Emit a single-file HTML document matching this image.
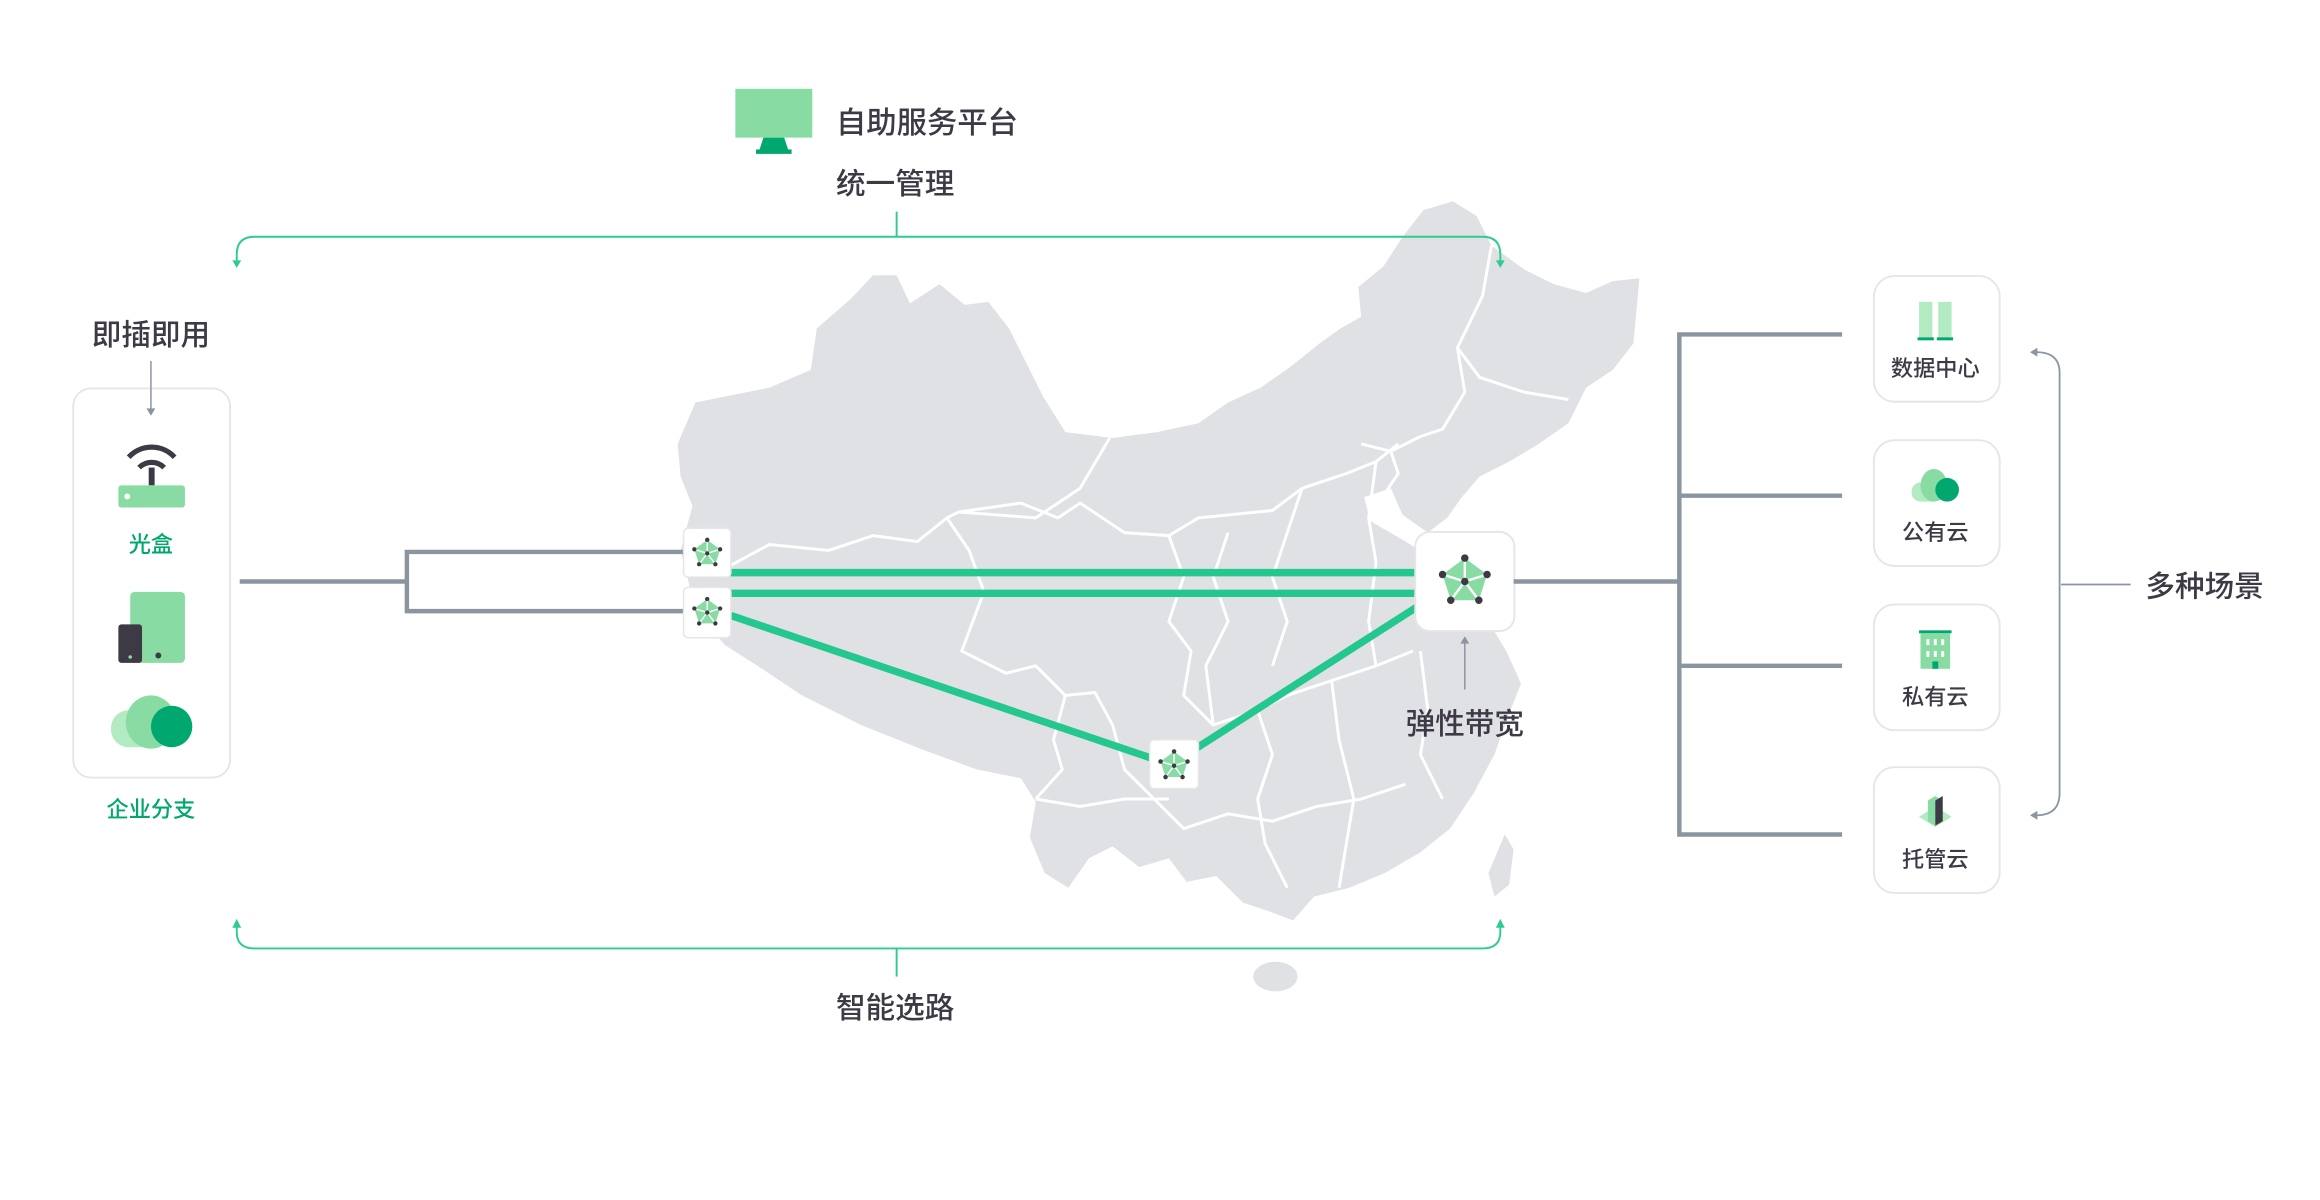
<!DOCTYPE html>
<html><head><meta charset="utf-8"><style>
html,body{margin:0;padding:0;background:#fff;}
svg{display:block;}
text{font-family:"Liberation Sans","Noto Sans CJK SC",sans-serif;font-weight:500;}
</style></head><body>
<svg width="2320" height="1200" viewBox="0 0 1568 811" xmlns="http://www.w3.org/2000/svg">
<defs>
<symbol id="pent" viewBox="-12 -12 24 24">
<polygon points="0,-10 9.5,-3 6,8 -6,8 -9.5,-3" fill="#88dca3"/>
<g stroke="#fff" stroke-width="1"><line x1="0" y1="0" x2="0" y2="-10"/><line x1="0" y1="0" x2="9.5" y2="-3"/><line x1="0" y1="0" x2="6" y2="8"/><line x1="0" y1="0" x2="-6" y2="8"/><line x1="0" y1="0" x2="-9.5" y2="-3"/></g>
<g fill="#3d3a45"><circle cx="0" cy="-10" r="1.6"/><circle cx="9.5" cy="-3" r="1.6"/><circle cx="6" cy="8" r="1.6"/><circle cx="-6" cy="8" r="1.6"/><circle cx="-9.5" cy="-3" r="1.6"/><circle cx="0" cy="0" r="1.6"/></g>
</symbol>
</defs>

<!-- map -->
<path fill="#dfe1e5" d="M458,300 L470,272 L490,268 L520,262 L548,250 L552,222 L575,202 L590,186 L606,186 L615,205 L635,192 L652,206 L668,204 L682,222 L692,242 L705,268 L720,292 L752,296 L782,292 L810,286 L830,272 L852,262 L872,248 L892,232 L906,222 L920,214 L918,194 L935,180 L948,160 L962,142 L982,136 L998,146 L1008,166 L1030,182 L1050,192 L1072,198 L1090,190 L1108,188 L1104,232 L1090,250 L1072,262 L1060,286 L1040,300 L1020,312 L1000,322 L988,336 L978,350 L965,360 L948,348 L940,330 L922,336 L926,352 L950,366 L975,382 L995,395 L1006,420 L1018,440 L1028,462 L1020,482 L1010,510 L996,536 L980,560 L960,576 L936,590 L912,600 L888,606 L874,622 L858,616 L840,610 L822,592 L802,596 L790,580 L770,586 L752,572 L736,580 L722,600 L706,590 L696,566 L700,542 L690,526 L660,520 L622,506 L582,490 L542,470 L512,450 L490,436 L476,420 L466,396 L460,372 L468,342 L460,322 Z"/>
<path fill="#dfe1e5" d="M1017,564 L1023,574 L1020,598 L1010,606 L1006,590 Z"/>
<ellipse cx="862" cy="660" rx="15" ry="10" fill="#dfe1e5"/>
<g fill="none" stroke="#fff" stroke-width="2" stroke-linejoin="round">
<path d="M494,382 L520,368 L560,372 L590,362 L620,366 L640,350 L648,346 L700,350 L730,330 L750,296"/>
<path d="M640,350 L655,372 L665,400 L650,440 L680,455 L700,450 L720,470 L740,468 L752,490"/>
<path d="M648,346 L690,340 L715,350 L730,340 L760,360 L790,362 L810,350 L830,348 L860,345 L880,330 L910,320 L930,312 L945,300"/>
<path d="M790,362 L800,390 L790,420 L805,440 L800,470 L820,490 L850,480 L870,470 L900,460 L930,450 L955,440"/>
<path d="M720,470 L712,500 L718,520 L700,540"/>
<path d="M752,490 L760,520 L780,540 L800,560 L830,550 L860,555 L890,545 L920,540 L950,530"/>
<path d="M850,480 L860,510 L850,540 L855,570 L870,600"/>
<path d="M900,460 L905,500 L915,540 L910,570 L905,600"/>
<path d="M960,440 L965,480 L960,510 L975,540"/>
<path d="M880,330 L870,360 L860,390 L870,420 L860,450"/>
<path d="M930,312 L925,350 L930,380 L925,420 L930,450"/>
<path d="M1008,166 L1002,200 L985,235 L1000,255 L1030,265 L1060,270"/>
<path d="M985,235 L990,265 L975,290 L960,295 L940,305 L920,300"/>
<path d="M940,305 L945,320 L935,335"/>
<path d="M820,490 L815,450 L830,420 L820,390 L830,360"/>
<path d="M700,540 L730,545 L760,540 L790,540"/>
</g>

<!-- top bracket -->
<g fill="none" stroke="#2ecc8f" stroke-width="1.3">
<path d="M606,143 V160"/>
<path d="M160,178 V172 Q160,160 172,160 H1002 Q1014,160 1014,172 V178"/>
<path d="M606,660 V641"/>
<path d="M160,625 V630 Q160,641 172,641 H1002 Q1014,641 1014,630 V625"/>
</g>
<g fill="#2ecc8f">
<polygon points="157,176 163,176 160,181"/>
<polygon points="1011,176 1017,176 1014,181"/>
<polygon points="157,627 163,627 160,621"/>
<polygon points="1011,627 1017,627 1014,621"/>
</g>

<!-- monitor -->
<rect x="497" y="60" width="52" height="33" fill="#88dca3"/>
<polygon points="516,93 530,93 533,102 513,102" fill="#00a870"/>
<rect x="511" y="101" width="24" height="3" fill="#00a870"/>
<text x="565" y="90" font-size="20.5" fill="#3d3a45">自助服务平台</text>
<text x="565" y="131" font-size="20" fill="#3d3a45">统一管理</text>
<text x="565" y="688" font-size="20" fill="#3d3a45">智能选路</text>

<!-- left -->
<text x="102" y="233" font-size="20" fill="#3d3a45" text-anchor="middle">即插即用</text>
<rect x="49.5" y="262.5" width="106" height="263" rx="12" fill="#fff" stroke="#e6e6e6" stroke-width="1.3"/>
<line x1="102" y1="244" x2="102" y2="277" stroke="#8a959f" stroke-width="1"/>
<polygon points="99,276 105,276 102,281" fill="#8a959f"/>
<path d="M87,309 A21,21 0 0 1 118,309" fill="none" stroke="#3d3a45" stroke-width="3.5"/>
<path d="M94,316 A12,12 0 0 1 111,316" fill="none" stroke="#3d3a45" stroke-width="3.5"/>
<rect x="100.5" y="316" width="4" height="12" fill="#3d3a45"/>
<rect x="80" y="328" width="45" height="15" rx="2" fill="#88dca3"/>
<circle cx="86" cy="335.5" r="2" fill="#fff"/>
<text x="102" y="373" font-size="15" fill="#00a870" text-anchor="middle">光盒</text>
<rect x="88" y="400" width="37" height="48" rx="3" fill="#88dca3"/>
<rect x="80" y="422" width="16" height="26" rx="2" fill="#3d3a45"/>
<circle cx="88" cy="444" r="1.2" fill="#88dca3"/>
<circle cx="107" cy="443" r="2" fill="#3d3a45"/>
<rect x="75" y="480" width="30" height="25" rx="12" fill="#b2ebc2"/>
<ellipse cx="102" cy="488" rx="17" ry="18" fill="#88dca3"/>
<ellipse cx="116" cy="491" rx="14" ry="14" fill="#00a870"/>
<text x="102" y="552" font-size="15" fill="#00a870" text-anchor="middle">企业分支</text>

<!-- left connectors -->
<g fill="none" stroke="#8a959f" stroke-width="3">
<path d="M162,393 H275"/>
<path d="M462,373 H275 V413 H462"/>
</g>

<!-- green routes -->
<g stroke="#24c78e" stroke-width="5" fill="none">
<line x1="494" y1="387" x2="958" y2="387"/>
<line x1="494" y1="401" x2="958" y2="401"/>
<line x1="494" y1="416" x2="780" y2="513"/>
<line x1="808" y1="506" x2="958" y2="410"/>
</g>

<!-- nodes -->
<rect x="462" y="357" width="32" height="33" rx="3" fill="#fff" stroke="#e6e6e6"/>
<use href="#pent" x="467" y="363" width="22" height="22"/>
<rect x="462" y="397" width="32" height="34" rx="3" fill="#fff" stroke="#e6e6e6"/>
<use href="#pent" x="467" y="403" width="22" height="22"/>
<rect x="777" y="500" width="33" height="33" rx="3" fill="#fff" stroke="#e6e6e6"/>
<use href="#pent" x="782" y="506" width="23" height="23"/>
<rect x="956.5" y="359.5" width="67" height="67" rx="10" fill="#fff" stroke="#e6e6e6" stroke-width="1.3"/>
<use href="#pent" x="971" y="374" width="38" height="38"/>

<line x1="990" y1="466" x2="990" y2="434" stroke="#8a959f" stroke-width="1"/>
<polygon points="987,435 993,435 990,430" fill="#8a959f"/>
<text x="990" y="496" font-size="20" fill="#3d3a45" text-anchor="middle">弹性带宽</text>

<!-- right connectors -->
<g fill="none" stroke="#8a959f" stroke-width="3">
<path d="M1023,393 H1135"/>
<path d="M1245,226 H1135 V564 H1245"/>
<path d="M1135,335 H1245"/>
<path d="M1135,450 H1245"/>
</g>

<!-- cards -->
<g fill="#fff" stroke="#e6e6e6" stroke-width="1.3">
<rect x="1266.5" y="186.5" width="85" height="85" rx="14"/>
<rect x="1266.5" y="297.5" width="85" height="85" rx="14"/>
<rect x="1266.5" y="408.5" width="85" height="85" rx="14"/>
<rect x="1266.5" y="518.5" width="85" height="85" rx="14"/>
</g>
<rect x="1297" y="204" width="9" height="25" fill="#b2ebc2"/>
<rect x="1310" y="204" width="9" height="25" fill="#b2ebc2"/>
<rect x="1296" y="228" width="11" height="2" fill="#00a870"/>
<rect x="1309" y="228" width="11" height="2" fill="#00a870"/>
<text x="1308" y="254" font-size="15" fill="#3d3a45" text-anchor="middle">数据中心</text>
<rect x="1292" y="326" width="20" height="13" rx="6" fill="#b2ebc2"/>
<ellipse cx="1307" cy="328" rx="9" ry="11" fill="#88dca3"/>
<ellipse cx="1316" cy="331" rx="8" ry="8" fill="#00a870"/>
<text x="1308" y="365" font-size="15" fill="#3d3a45" text-anchor="middle">公有云</text>
<rect x="1297" y="426" width="22" height="2" fill="#00a870"/>
<rect x="1298" y="428" width="20" height="24" fill="#88dca3"/>
<g fill="#fff"><rect x="1302" y="432" width="2" height="4"/><rect x="1307" y="432" width="2" height="4"/><rect x="1312" y="432" width="2" height="4"/><rect x="1302" y="440" width="2" height="4"/><rect x="1307" y="440" width="2" height="4"/><rect x="1312" y="440" width="2" height="4"/></g>
<rect x="1306" y="447" width="4" height="5" fill="#00a870"/>
<text x="1308" y="476" font-size="15" fill="#3d3a45" text-anchor="middle">私有云</text>
<polygon points="1297,552 1308,545 1319,552 1308,559" fill="#b2ebc2"/>
<polygon points="1303,541 1308,538 1313,541 1313,555 1308,558 1303,555" fill="#88dca3"/>
<polygon points="1308,541 1313,538 1313,555 1308,558" fill="#3d3a45"/>
<text x="1308" y="586" font-size="15" fill="#3d3a45" text-anchor="middle">托管云</text>

<!-- right bracket -->
<path d="M1376,238 Q1392,238 1392,252 V536 Q1392,551 1376,551" fill="none" stroke="#8a959f" stroke-width="1.2"/>
<polygon points="1377,235 1377,241 1372,238" fill="#8a959f"/>
<polygon points="1377,548 1377,554 1372,551" fill="#8a959f"/>
<line x1="1393" y1="395" x2="1440" y2="395" stroke="#8a959f" stroke-width="1.2"/>
<text x="1450" y="403" font-size="20" fill="#3d3a45">多种场景</text>
</svg>
</body></html>
